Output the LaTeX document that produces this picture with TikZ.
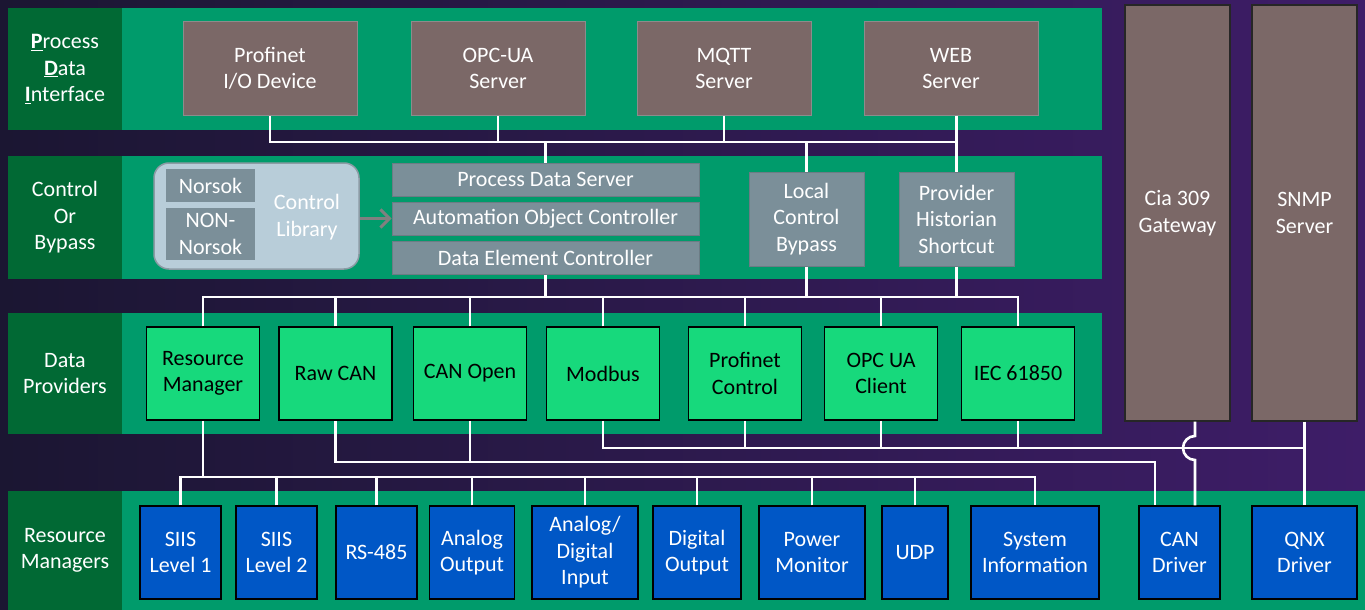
\documentclass[tikz,border=0pt]{standalone}
\usepackage{fontspec}
\setmainfont{Carlito}
\usetikzlibrary{arrows.meta}

\definecolor{bgdark}{HTML}{1B1632}
\definecolor{bgpurple}{HTML}{3E1D68}
\definecolor{bandgreen}{HTML}{009B6B}
\definecolor{lblgreen}{HTML}{016934}
\definecolor{srvbrown}{HTML}{7B6867}
\definecolor{ctlgray}{HTML}{7B8F99}
\definecolor{ctlborder}{HTML}{6C7C85}
\definecolor{libblue}{HTML}{B8CDD9}
\definecolor{libborder}{HTML}{8C9BA5}
\definecolor{provgreen}{HTML}{17D97C}
\definecolor{mgrblue}{HTML}{0057C6}

\begin{document}
\begin{tikzpicture}[x=1pt, y=-1pt,
    every node/.style={font=\fontsize{22}{26.5}\selectfont, inner sep=0pt, align=center},
    rowlbl/.style={fill=lblgreen, text=white, minimum width=114},
    srv/.style={rectangle, fill=srvbrown, draw=black!45, line width=1, text=white, minimum width=174, minimum height=93},
    gate/.style={rectangle, fill=srvbrown, draw=black!85, line width=1.2, text=white, minimum width=105, minimum height=416},
    ctl/.style={rectangle, fill=ctlgray, draw=ctlborder, line width=1, text=white},
    prov/.style={rectangle, fill=provgreen, draw=black, line width=1.5, text=black, minimum width=113, minimum height=93},
    mgr/.style={rectangle, fill=mgrblue, draw=black, line width=1.5, text=white, minimum height=93},
    wire/.style={draw=white, line width=2.6},
    libarrow/.style={-{Straight Barb[length=9pt, width=18pt]}, draw=black!50, line width=3}
]
\useasboundingbox (0,0) rectangle (1365,610);
\shade[left color=bgdark, right color=bgpurple] (0,0) rectangle (1365,610);

% Layer bands
\fill[bandgreen] (8,8) rectangle (1102,130);
\fill[bandgreen] (8,156) rectangle (1102,279);
\fill[bandgreen] (8,313) rectangle (1102,434);
\fill[bandgreen] (8,491) rectangle (1365,610);

% Layer labels
\node[rowlbl, minimum height=122] (lpdi) at (65,69) {\underline{\textbf{P}}rocess\\\underline{\textbf{D}}ata\\\underline{\textbf{I}}nterface};
\node[rowlbl, minimum height=123] (lctl) at (65,217.5) {Control\\Or\\Bypass};
\node[rowlbl, minimum height=121] (lprov) at (65,373.5) {Data\\Providers};
\node[rowlbl, minimum height=119] (lmgr) at (65,550.5) {Resource\\Managers};

% Process data interface
\node[srv] (pnio) at (270,68.5) {Profinet\\I/O Device};
\node[srv] (opcua) at (498,68.5) {OPC-UA\\Server};
\node[srv] (mqtt) at (724,68.5) {MQTT\\Server};
\node[srv] (web) at (951,68.5) {WEB\\Server};

% Side services
\node[gate] (cia) at (1177.5,213) {Cia 309\\Gateway};
\node[gate] (snmp) at (1304.5,213) {SNMP\\Server};

% Control or bypass
\node[rectangle, rounded corners=15, fill=libblue, draw=libborder, line width=1.5, minimum width=205, minimum height=106] (lib) at (256.5,216) {};
\node[ctl, draw=none, minimum width=89, minimum height=33] (norsok) at (210.5,185.5) {Norsok};
\node[ctl, draw=none, minimum width=89, minimum height=52] (nonnorsok) at (210.5,234) {NON-\\Norsok};
\node[text=white] (liblbl) at (307,217) {Control\\Library};
\node[ctl, minimum width=307, minimum height=33] (pds) at (545.5,179.5) {Process Data Server};
\node[ctl, minimum width=307, minimum height=33] (aoc) at (545.5,218.5) {Automation Object Controller};
\node[ctl, minimum width=307, minimum height=33] (dec) at (545.5,257.5) {Data Element Controller};
\node[ctl, minimum width=115, minimum height=94] (lcb) at (806.5,219) {Local\\Control\\Bypass};
\node[ctl, minimum width=115, minimum height=94] (phs) at (956.5,219) {Provider\\Historian\\Shortcut};

% Data providers
\node[prov] (resmgr) at (203,373.5) {Resource\\Manager};
\node[prov] (rawcan) at (335.5,373.5) {Raw CAN};
\node[prov] (canopen) at (470,373.5) {CAN Open};
\node[prov] (modbus) at (603,373.5) {Modbus};
\node[prov] (pnctl) at (745,373.5) {Profinet\\Control};
\node[prov] (opcuac) at (881,373.5) {OPC UA\\Client};
\node[prov] (iec) at (1018,373.5) {IEC 61850};

% Resource managers
\node[mgr, minimum width=81] (siis1) at (180.5,552.5) {SIIS\\Level 1};
\node[mgr, minimum width=81] (siis2) at (276.5,552.5) {SIIS\\Level 2};
\node[mgr, minimum width=81] (rs485) at (376.5,552.5) {RS-485};
\node[mgr, minimum width=85] (anout) at (472,552.5) {Analog\\Output};
\node[mgr, minimum width=106] (adin) at (585,552.5) {Analog/\\Digital\\Input};
\node[mgr, minimum width=88] (digout) at (697,552.5) {Digital\\Output};
\node[mgr, minimum width=106] (pwrmon) at (812,552.5) {Power\\Monitor};
\node[mgr, minimum width=66] (udp) at (915,552.5) {UDP};
\node[mgr, minimum width=128] (sysinfo) at (1035,552.5) {System\\Information};
\node[mgr, minimum width=81] (candrv) at (1179.5,552.5) {CAN\\Driver};
\node[mgr, minimum width=105] (qnx) at (1304.5,552.5) {QNX\\Driver};

% Bus levels
\coordinate (topbus) at (0,142);
\coordinate (ctlbus) at (0,297);
\coordinate (mgrbus) at (0,477);
\coordinate (canin) at (1155,462);
\coordinate (hop) at (1195,448);

% Connectors
\draw[libarrow] (lib.east |- aoc.west) -- (aoc.west);
\draw[wire] (pnio.south) |- (phs.north |- topbus);
\draw[wire] (opcua.south) -- (opcua.south |- topbus);
\draw[wire] (mqtt.south) -- (mqtt.south |- topbus);
\draw[wire] (phs.north |- web.south) -- (phs.north);
\draw[wire] (pds.north |- topbus) -- (pds.north);
\draw[wire] (lcb.north |- topbus) -- (lcb.north);

\draw[wire] (resmgr.north) |- (iec.north |- ctlbus) -- (iec.north);
\draw[wire] (dec.south) -- (dec.south |- ctlbus);
\draw[wire] (lcb.south) -- (lcb.south |- ctlbus);
\draw[wire] (phs.south) -- (phs.south |- ctlbus);
\foreach \n in {rawcan, canopen, modbus, pnctl, opcuac}
    \draw[wire] (\n.north) -- (\n.north |- ctlbus);

\draw[wire] (resmgr.south) -- (resmgr.south |- mgrbus);
\draw[wire] (siis1.north) |- (sysinfo.north |- mgrbus) -- (sysinfo.north);
\foreach \n in {siis2, rs485, anout, adin, digout, pwrmon, udp}
    \draw[wire] (\n.north) -- (\n.north |- mgrbus);

\draw[wire] (rawcan.south) |- (canin) -- (canin |- candrv.north);
\draw[wire] (canopen.south) -- (canopen.south |- canin);
\draw[wire] (modbus.south) |- (qnx.north |- hop);
\foreach \n in {pnctl, opcuac, iec}
    \draw[wire] (\n.south) -- (\n.south |- hop);
\draw[wire] (snmp.south) -- (qnx.north);
\draw[wire] (cia.south -| hop) -- ([yshift=12pt]hop) arc[start angle=90, end angle=270, radius=12pt] -- (candrv.north -| hop);

\end{tikzpicture}
\end{document}
